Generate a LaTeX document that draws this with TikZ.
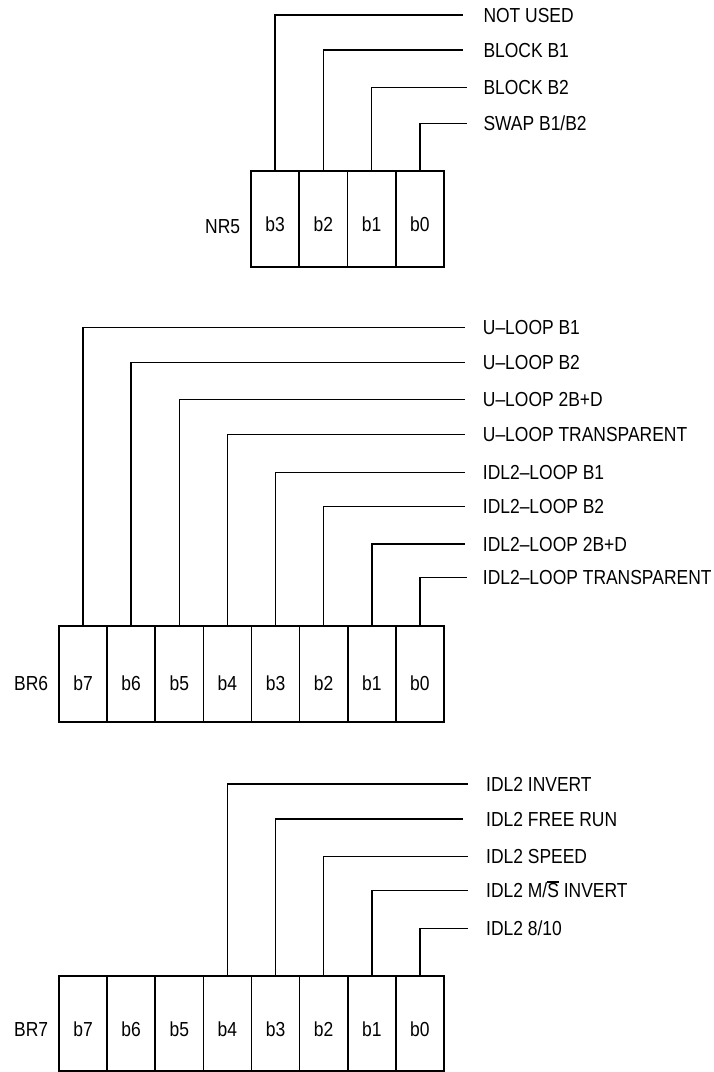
\documentclass[tikz,border=0pt]{standalone}
\usepackage{fontspec}
\setmainfont[FakeStretch=0.86]{Liberation Sans}
\newcommand\ovlS{\leavevmode\vbox{\hrule height 1.1pt\kern 1.2pt\hbox{S}}}
\begin{document}
\begin{tikzpicture}[x=1pt,y=-1pt,
  every node/.style={font=\fontsize{20.3}{24}\selectfont},
  cell/.style={draw, line width=1.6pt, rectangle, inner sep=0pt,
    minimum width=48.2pt, minimum height=96pt, text depth=0pt},
  lead/.style={line width=1.5pt},
  lbl/.style={anchor=base west, inner sep=0pt},
  reg/.style={anchor=base west, inner sep=0pt}]
\useasboundingbox (0,0) rectangle (713,1072);

% ---------------- NR5 ----------------
\foreach \i/\b in {0/3,1/2,2/1,3/0}
  \node[cell, minimum width=48.25pt, text height=26pt] (nr5b\b) at ({251+48.25*(\i+0.5)}, 218.7) {b\b};
\node[reg] (nr5) at (205, 233.3) {NR5};
\foreach \b/\y/\e/\t in {3/15/462.7/{NOT USED}, 2/50/462.7/{BLOCK B1}, 1/87.7/467/{BLOCK B2}, 0/123.3/467/{SWAP B1/B2}}{
  \coordinate (nr5e\b) at (\e, \y);
  \node[lbl] (nr5l\b) at (483.3, \y+7.2) {\t};
  \draw[lead] (nr5b\b.north) |- (nr5e\b);
}

% ---------------- BR6 ----------------
\foreach \i/\b in {0/7,1/6,2/5,3/4,4/3,5/2,6/1,7/0}
  \node[cell, text height=33pt] (br6b\b) at ({59+48.125*(\i+0.5)}, 673.8) {b\b};
\node[reg] (br6) at (14, 690) {BR6};
\foreach \b/\y/\e/\t in {7/327.7/465/{U--LOOP B1}, 6/362.3/465/{U--LOOP B2}, 5/399.3/465/{U--LOOP 2B+D},
  4/434.7/465/{U--LOOP TRANSPARENT}, 3/472.3/465/{IDL2--LOOP B1}, 2/506.7/465/{IDL2--LOOP B2},
  1/544/465/{IDL2--LOOP 2B+D}, 0/577.5/466.7/{IDL2--LOOP TRANSPARENT}}{
  \coordinate (br6e\b) at (\e, \y);
  \node[lbl] (br6l\b) at (482.7, \y+7.2) {\t};
  \draw[lead] (br6b\b.north) |- (br6e\b);
}

% ---------------- BR7 ----------------
\foreach \i/\b in {0/7,1/6,2/5,3/4,4/3,5/2,6/1,7/0}
  \node[cell, minimum height=95pt, text height=26pt] (br7b\b) at ({59+48.125*(\i+0.5)}, 1023.5) {b\b};
\node[reg] (br7) at (14, 1036.7) {BR7};
\foreach \b/\y/\e/\t in {4/784/468.3/{IDL2 INVERT}, 3/819/462.7/{IDL2 FREE RUN}, 2/856.3/468.3/{IDL2 SPEED},
  1/890.7/468.3/{IDL2 M/\ovlS\ INVERT}, 0/928.3/468.3/{IDL2 8/10}}{
  \coordinate (br7e\b) at (\e, \y);
  \node[lbl] (br7l\b) at (486, \y+7.2) {\t};
  \draw[lead] (br7b\b.north) |- (br7e\b);
}
\end{tikzpicture}
\end{document}
